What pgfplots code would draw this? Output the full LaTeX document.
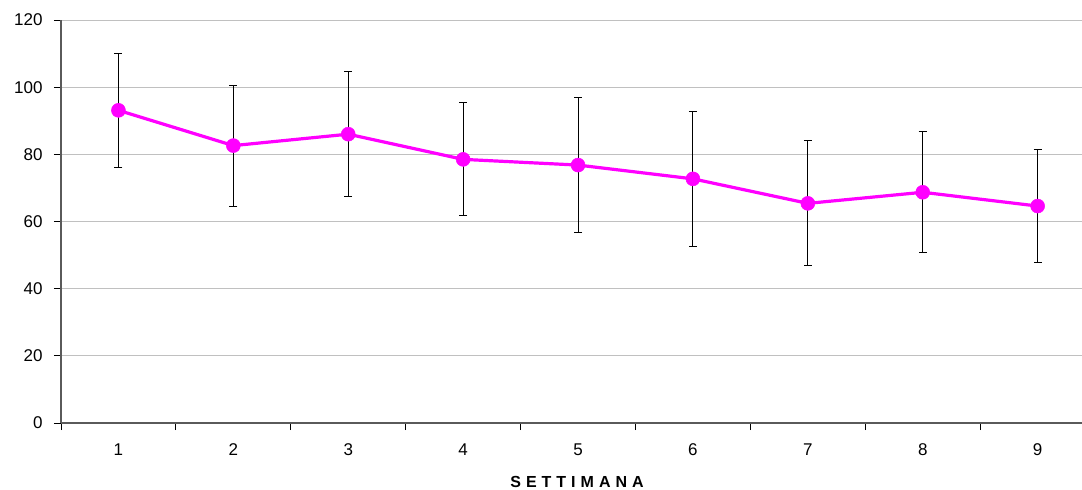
\documentclass[border=0pt]{standalone}
\usepackage{fontspec}
\setmainfont{Liberation Sans}
\usepackage{pgfplots}
\pgfplotsset{compat=1.18}
\definecolor{gridgray}{RGB}{192,192,192}
\definecolor{axgray}{RGB}{90,90,90}
\definecolor{mag}{RGB}{255,0,255}
\begin{document}
\begin{tikzpicture}[x=1pt,y=1pt]
\useasboundingbox (-61,-67) rectangle (1021,423);
\begin{axis}[
  at={(0,0)}, anchor=south west,
  scale only axis, width=1021pt, height=403pt,
  xmin=0.5, xmax=9.3865, ymin=0, ymax=120,
  axis lines*=left,
  axis line style={axgray, line width=1.1pt},
  ytick={0,20,...,120},
  xtick={1,...,9},
  minor xtick={0.5,1.5,...,8.5},
  major x tick style={draw=none},
  minor x tick style={black, line width=0.8pt},
  major y tick style={black, line width=0.8pt},
  tick align=outside,
  major tick length=7pt, minor tick length=7pt,
  ymajorgrids,
  grid style={gridgray, line width=0.9pt},
  tick label style={font=\fontsize{17}{20}\selectfont},
  xticklabel style={anchor=center, yshift=-20pt},
  yticklabel style={anchor=east, xshift=-8pt},
  /pgf/number format/assume math mode=true,
  clip=false,
]
\addplot[color=mag, line width=3.2pt,
  mark=*, mark size=7pt, mark options={fill=mag, draw=mag, line width=0.5pt},
  error bars/.cd, y dir=both, y explicit,
  error bar style={black, line width=1pt},
  error mark options={black, mark size=4pt, line width=1pt, rotate=90}]
coordinates {
(1,93.1) +- (0,16.9)
(2,82.6) +- (0,18.0)
(3,86.0) +- (0,18.7)
(4,78.5) +- (0,16.8)
(5,76.8) +- (0,20.1)
(6,72.7) +- (0,20.1)
(7,65.4) +- (0,18.6)
(8,68.7) +- (0,18.0)
(9,64.6) +- (0,16.8)
};
\end{axis}
\node[font=\fontsize{16}{19}\selectfont\bfseries, anchor=center] at (516,-59)
  {S\kern5pt E\kern5pt T\kern5pt T\kern5pt I\kern5pt M\kern5pt A\kern5pt N\kern5pt A};
\end{tikzpicture}
\end{document}
